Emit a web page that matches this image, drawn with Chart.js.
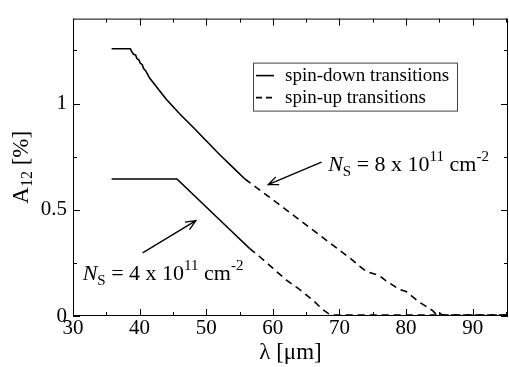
<!DOCTYPE html>
<html>
<head>
<meta charset="utf-8">
<script src="https://cdn.jsdelivr.net/npm/chart.js@4"></script>
<style>
html, body { margin: 0; padding: 0; background: #fff; }
#probe { position: absolute; left: -999px; top: 0; font-family: "Liberation Serif"; font-size: 20px; }
</style>
</head>
<body>
<canvas id="chart" width="509" height="367"></canvas>
<div id="probe">λ μm <i>N</i> spin</div>
<script>
const xTicks = [30, 40, 50, 60, 70, 80, 90];
const xMinor = [35, 45, 55, 65, 75, 85, 95];
const yTicks = [0, 0.5, 1];
const yTickLabels = ["0", "0.5", "1"];
const yMinor = [0.25, 0.75, 1.25];

// N_S = 8 x 10^11, spin-down (solid)
const down8X = [35.8, 38.6, 38.9, 39.1, 39.4, 39.6, 39.9, 40.1, 40.4, 40.6, 40.9, 41.2, 41.5, 42.5, 44.0, 46.0, 48.0, 50.0, 52.0, 54.0, 55.8];
const down8Y = [1.258, 1.258, 1.24, 1.232, 1.228, 1.212, 1.205, 1.19, 1.183, 1.165, 1.155, 1.138, 1.12, 1.08, 1.02, 0.952, 0.89, 0.825, 0.76, 0.70, 0.645];
// N_S = 8 x 10^11, spin-up (dashed)
const up8X = [55.8, 58, 60, 62, 64, 66, 68, 70, 72, 73, 74, 75, 76, 77, 78, 79, 80, 81, 82, 83, 84, 84.6, 85.0, 85.4, 95.3];
const up8Y = [0.645, 0.594, 0.547, 0.5, 0.452, 0.405, 0.357, 0.31, 0.262, 0.235, 0.21, 0.2, 0.19, 0.165, 0.145, 0.125, 0.115, 0.09, 0.065, 0.045, 0.025, 0.005, 0.015, 0.005, 0.005];
// N_S = 4 x 10^11, spin-down (solid)
const down4X = [35.8, 45.6, 48, 50, 52, 54, 56.5];
const down4Y = [0.645, 0.645, 0.573, 0.513, 0.453, 0.393, 0.318];
// N_S = 4 x 10^11, spin-up (dashed)
const up4X = [56.5, 58, 60, 62, 64, 66, 67.5, 68.5, 69, 95.3];
const up4Y = [0.318, 0.28, 0.225, 0.17, 0.125, 0.075, 0.03, 0.008, 0.005, 0.005];

const SERIF = "\"Liberation Serif\", \"Times New Roman\", Times, \"DejaVu Serif\", serif";

function pts(xs, ys) {
	return xs.map((x, i) => ({ x: x, y: ys[i] }));
}

function series(xs, ys, dashed) {
	return {
		data: pts(xs, ys),
		borderColor: "#000",
		borderWidth: 1.6,
		borderDash: dashed ? [7, 5] : [],
		pointRadius: 0,
		tension: 0,
		fill: false
	};
}

// annotation texts, anchored in data coordinates
const notes = [
	{ x: 68.3, y: 0.683, val: "8", from: [67.3, 0.724], to: [59.3, 0.618] },
	{ x: 31.45, y: 0.168, val: "4", from: [40.45, 0.297], to: [48.45, 0.449] }
];

function rich(ctx, x, y, parts) {
	ctx.textBaseline = "alphabetic";
	ctx.textAlign = "left";
	for (const p of parts) {
		ctx.font = (p.italic ? "italic " : "") + p.size + "px " + SERIF;
		ctx.fillText(p.t, x, y + (p.dy || 0));
		x += ctx.measureText(p.t).width;
	}
	return x;
}

function arrow(ctx, x1, y1, x2, y2) {
	ctx.beginPath();
	ctx.moveTo(x1, y1);
	ctx.lineTo(x2, y2);
	const a = Math.atan2(y2 - y1, x2 - x1);
	const len = 11, spread = 0.4;
	ctx.moveTo(x2 - len * Math.cos(a - spread), y2 - len * Math.sin(a - spread));
	ctx.lineTo(x2, y2);
	ctx.lineTo(x2 - len * Math.cos(a + spread), y2 - len * Math.sin(a + spread));
	ctx.stroke();
}

const decor = {
	id: "decor",
	afterDraw(chart) {
		const ctx = chart.ctx;
		const a = chart.chartArea;
		const xs = chart.scales.x, ys = chart.scales.y;
		ctx.save();
		ctx.strokeStyle = "#000";
		ctx.fillStyle = "#000";
		ctx.lineWidth = 1;

		// frame
		ctx.strokeRect(a.left + 0.5, a.top + 0.5, a.right - a.left - 1, a.bottom - a.top - 1);

		// inward ticks on all four sides
		ctx.beginPath();
		const tx = (v, len) => {
			const p = Math.round(xs.getPixelForValue(v)) + 0.5;
			ctx.moveTo(p, a.bottom); ctx.lineTo(p, a.bottom - len);
			ctx.moveTo(p, a.top); ctx.lineTo(p, a.top + len);
		};
		const ty = (v, len) => {
			const p = Math.round(ys.getPixelForValue(v)) + 0.5;
			ctx.moveTo(a.left, p); ctx.lineTo(a.left + len, p);
			ctx.moveTo(a.right, p); ctx.lineTo(a.right - len, p);
		};
		xTicks.forEach(v => tx(v, 7));
		xMinor.forEach(v => tx(v, 4));
		yTicks.forEach(v => ty(v, 7));
		yMinor.forEach(v => ty(v, 4));
		ctx.stroke();

		// y axis title
		ctx.save();
		ctx.translate(a.left - 45, (a.top + a.bottom) / 2);
		ctx.rotate(-Math.PI / 2);
		ctx.font = "23px " + SERIF;
		const w1 = ctx.measureText("A").width;
		const w3 = ctx.measureText(" [%]").width;
		ctx.font = "16px " + SERIF;
		const w2 = ctx.measureText("12").width;
		rich(ctx, -(w1 + w2 + w3) / 2, 0, [
			{ t: "A", size: 23 },
			{ t: "12", size: 16, dy: 4 },
			{ t: " [%]", size: 23 }
		]);
		ctx.restore();

		// legend
		const lx = a.left + 180, ly = a.top + 44;
		ctx.strokeStyle = "#444";
		ctx.strokeRect(lx + 0.5, ly + 0.5, 204, 48);
		ctx.strokeStyle = "#000";
		ctx.lineWidth = 1.6;
		ctx.beginPath();
		ctx.moveTo(lx + 3, ly + 13); ctx.lineTo(lx + 21, ly + 13);
		ctx.stroke();
		ctx.setLineDash([6, 4]);
		ctx.beginPath();
		ctx.moveTo(lx + 3, ly + 35); ctx.lineTo(lx + 23, ly + 35);
		ctx.stroke();
		ctx.setLineDash([]);
		ctx.font = "19px " + SERIF;
		ctx.textBaseline = "middle";
		ctx.fillText("spin-down transitions", lx + 32, ly + 13);
		ctx.fillText("spin-up transitions", lx + 32, ly + 35);

		// annotations
		ctx.lineWidth = 1.3;
		for (const n of notes) {
			arrow(ctx, xs.getPixelForValue(n.from[0]), ys.getPixelForValue(n.from[1]),
				xs.getPixelForValue(n.to[0]), ys.getPixelForValue(n.to[1]));
			rich(ctx, xs.getPixelForValue(n.x), ys.getPixelForValue(n.y), [
				{ t: "N", size: 22, italic: true },
				{ t: "S", size: 15, dy: 5 },
				{ t: " = " + n.val + " x 10", size: 22 },
				{ t: "11", size: 15, dy: -10 },
				{ t: " cm", size: 22 },
				{ t: "-2", size: 15, dy: -10 }
			]);
		}
		ctx.restore();
	}
};

function draw() {
	new Chart(document.getElementById("chart"), {
		type: "line",
		data: {
			datasets: [
				series(down8X, down8Y, false),
				series(up8X, up8Y, true),
				series(down4X, down4Y, false),
				series(up4X, up4Y, true)
			]
		},
		options: {
			responsive: false,
			animation: false,
			layout: { padding: { top: 9, right: 1, left: 0, bottom: 0 } },
			plugins: {
				legend: { display: false },
				tooltip: { enabled: false }
			},
			scales: {
				x: {
					type: "linear",
					min: 30,
					max: 95.3,
					grid: { display: false, drawTicks: false },
					border: { display: false },
					afterBuildTicks: s => { s.ticks = xTicks.map(v => ({ value: v })); },
					afterFit: s => { s.height = 51; },
					ticks: {
						color: "#000",
						padding: 0,
						maxRotation: 0,
						font: { family: SERIF, size: 21 }
					},
					title: {
						display: true,
						text: "λ [μm]",
						color: "#000",
						padding: 0,
						font: { family: SERIF, size: 23 }
					}
				},
				y: {
					min: 0,
					max: 1.4,
					grid: { display: false, drawTicks: false },
					border: { display: false },
					afterBuildTicks: s => { s.ticks = yTicks.map(v => ({ value: v })); },
					afterFit: s => { s.width = 73; },
					ticks: {
						color: "#000",
						padding: 6,
						font: { family: SERIF, size: 21 },
						callback: v => yTickLabels[yTicks.indexOf(v)]
					}
				}
			}
		},
		plugins: [decor]
	});
}

Promise.all([
	document.fonts.load("21px \"Liberation Serif\""),
	document.fonts.load("italic 21px \"Liberation Serif\"")
]).then(draw, draw);
</script>
</body>
</html>
